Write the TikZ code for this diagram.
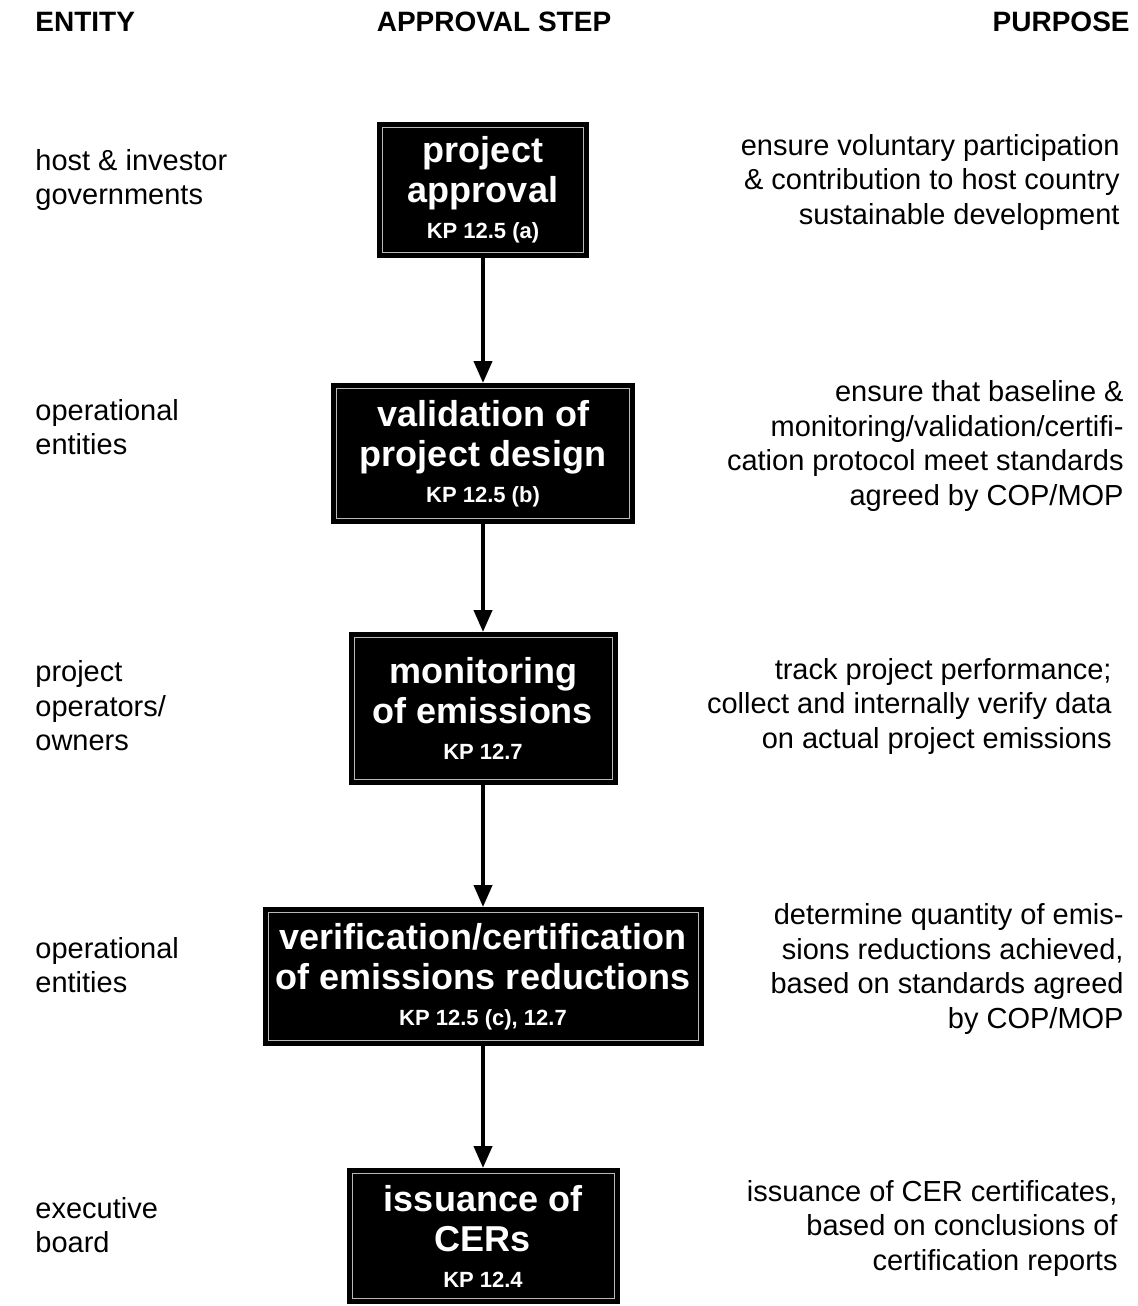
\documentclass[tikz,border=0pt]{standalone}
\usepackage{fontspec}
\setmainfont{Liberation Sans}
\usetikzlibrary{positioning,arrows.meta}
\tikzstyle{stepbox} = [rectangle, draw=black, fill=black, line width=2.5pt, double=gray!55, double distance=0.5pt, outer sep=2.75pt, text=white, align=center, font=\fontsize{18}{20}\selectfont\bfseries]
\tikzstyle{head} = [inner sep=0pt, font=\fontsize{14}{17}\selectfont\bfseries]
\tikzstyle{entity} = [anchor=west, align=left, inner sep=0pt, font=\fontsize{14.5}{17.25}\selectfont]
\tikzstyle{purpose} = [anchor=east, align=right, inner sep=0pt, font=\fontsize{14.5}{17.25}\selectfont]
\tikzstyle{arrow} = [line width=2pt, -{Triangle[length=11pt,width=9pt]}]
\newcommand{\kpref}[1]{\\[-2pt]{\fontsize{11}{13}\selectfont\bfseries KP #1}}

\begin{document}
\begin{tikzpicture}[x=0.5pt, y=-0.5pt]
    \useasboundingbox (0,0) rectangle (1138,1306);
    % column headings
    \node[head, anchor=west] (hEntity) at (35,22) {ENTITY};
    \node[head] (hStep) at (494,22) {APPROVAL STEP};
    \node[head, anchor=east] (hPurpose) at (1130,22) {PURPOSE};
    % approval steps
    \node[stepbox, minimum width=100.5pt, minimum height=62.5pt] (approval) at (483,190) {project\\approval\kpref{12.5 (a)}};
    \node[stepbox, minimum width=146.5pt, minimum height=65pt, below=62.5pt of approval] (validation) {validation of\\project design\kpref{12.5 (b)}};
    \node[stepbox, minimum width=129pt, minimum height=71pt, below=54pt of validation] (monitoring) {monitoring\\of emissions\kpref{12.7}};
    \node[stepbox, minimum width=215pt, minimum height=64pt, below=61pt of monitoring] (verification) {verification/certification\\of emissions reductions\kpref{12.5 (c), 12.7}};
    \node[stepbox, minimum width=131pt, minimum height=62.5pt, below=61pt of verification] (issuance) {issuance of\\CERs\kpref{12.4}};
    \draw[arrow] (approval) -- (validation);
    \draw[arrow] (validation) -- (monitoring);
    \draw[arrow] (monitoring) -- (verification);
    \draw[arrow] (verification) -- (issuance);
    % entities
    \node[entity] (eGov) at (35,180) {host \& investor\\governments};
    \node[entity] (eOpA) at (35,427) {operational\\entities};
    \node[entity] (eOwn) at (35,706) {project\\operators/\\owners};
    \node[entity] (eOpB) at (35,965) {operational\\entities};
    \node[entity] (eBoard) at (35,1225) {executive\\board};
    % purposes
    \node[purpose] (pApproval) at (1120,182) {ensure voluntary participation\\\& contribution to host country\\sustainable development};
    \node[purpose] (pValidation) at (1124,446) {ensure that baseline \&\\monitoring/validation/certifi-\\cation protocol meet standards\\agreed by COP/MOP};
    \node[purpose] (pMonitoring) at (1112,706) {track project performance;\\collect and internally verify data\\on actual project emissions};
    \node[purpose] (pVerification) at (1124,969) {determine quantity of emis-\\sions reductions achieved,\\based on standards agreed\\by COP/MOP};
    \node[purpose] (pIssuance) at (1118,1228) {issuance of CER certificates,\\based on conclusions of\\certification reports};
\end{tikzpicture}
\end{document}
